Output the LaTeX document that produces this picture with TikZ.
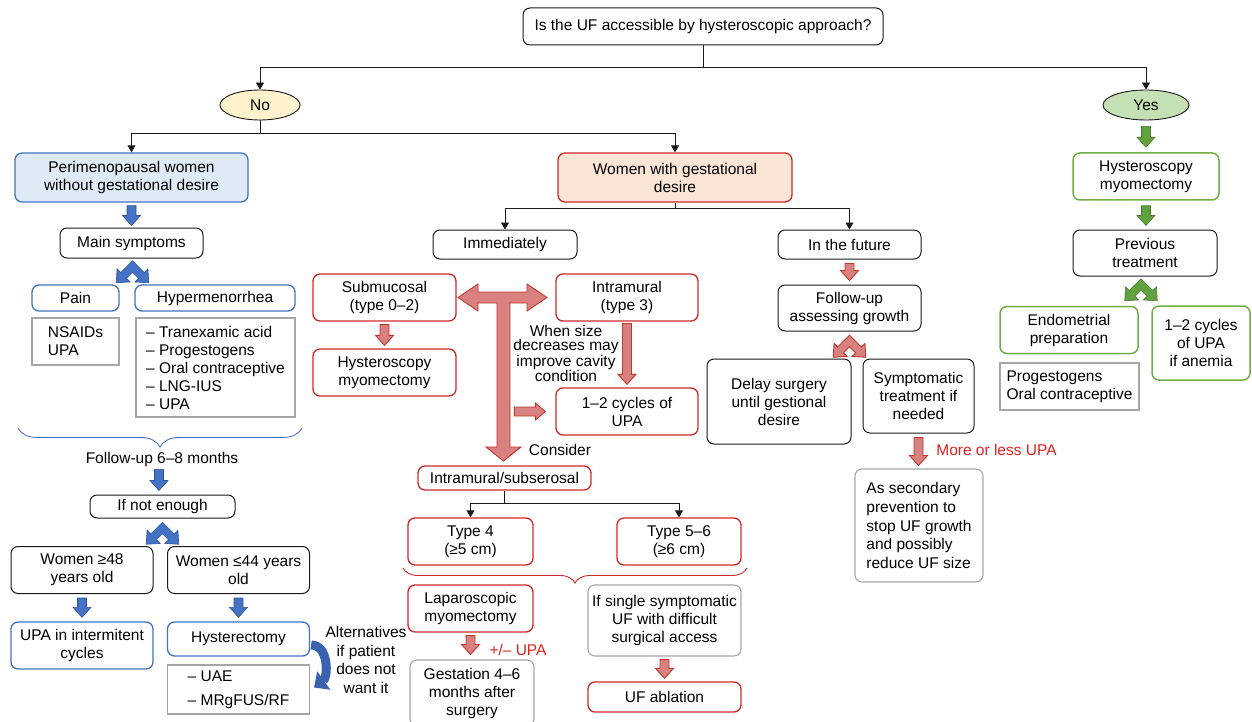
\documentclass[tikz,border=0pt]{standalone}
\usepackage{fontspec}
\setmainfont{Liberation Sans}
\usetikzlibrary{shapes.geometric,arrows.meta,calc,decorations.pathreplacing}
\definecolor{myblue}{HTML}{4472C4}
\definecolor{bluefill}{HTML}{DEEBF7}
\definecolor{myred}{HTML}{D02828}
\definecolor{redfill}{HTML}{FBE5D6}
\definecolor{redarr}{HTML}{D98080}
\definecolor{redarrline}{HTML}{C0392B}
\definecolor{redtext}{HTML}{E02020}
\definecolor{mygreen}{HTML}{70AD47}
\definecolor{greenfill}{HTML}{C5E0B4}
\definecolor{greenarr}{HTML}{62A13F}
\definecolor{greenarrline}{HTML}{4B7F2E}
\definecolor{mygray}{HTML}{A6A6A6}
\definecolor{nofill}{HTML}{FFF2CC}
\definecolor{bluearr}{HTML}{4472C4}
\definecolor{bluearrline}{HTML}{2F5597}
\definecolor{curvblue}{HTML}{3A62AE}
\definecolor{ink}{HTML}{1A1A1A}
\newcommand\fs{\fontsize{15.5}{18}\selectfont}
% vertical block arrow: start point, tip point
\newcommand\blkdown[3]{\path[#1] let \p1=#2, \p2=#3 in
  (\x1-4.5pt,\y1) -- (\x1+4.5pt,\y1) -- (\x1+4.5pt,\y2+10pt) -- (\x1+9pt,\y2+10pt)
  -- (\x1,\y2) -- (\x1-9pt,\y2+10pt) -- (\x1-4.5pt,\y2+10pt) -- cycle;}
% horizontal block arrow to the right
\newcommand\blkright[3]{\path[#1] let \p1=#2, \p2=#3 in
  (\x1,\y2-4.5pt) -- (\x2-10pt,\y2-4.5pt) -- (\x2-10pt,\y2-8.5pt) -- (\x2,\y2)
  -- (\x2-10pt,\y2+8.5pt) -- (\x2-10pt,\y2+4.5pt) -- (\x1,\y2+4.5pt) -- cycle;}
\tikzset{
  pics/chev/.style={code={\path[pic actions] (0,-4.95) -- (-10.25,5.31) -- (-13.44,2.12)
     -- (-14.14,14.14) -- (-2.12,13.44) -- (-5.31,10.25) -- (0,4.95) -- (5.31,10.25)
     -- (2.12,13.44) -- (14.14,14.14) -- (13.44,2.12) -- (10.25,5.31) -- cycle;}},
  sz/.style 2 args={minimum width=#1pt, minimum height=#2pt},
  box/.style={rounded corners=7pt, draw, align=center, inner sep=0pt},
  bbox/.style={box, draw=ink, line width=1pt},
  bluebox/.style={box, draw=myblue, line width=1.3pt},
  redbox/.style={box, draw=myred, line width=1.3pt},
  greenbox/.style={box, draw=mygreen, line width=1.5pt},
  graybox/.style={box, draw=mygray, line width=1.1pt},
  listbox/.style={draw=mygray, line width=1.1pt, align=left, inner sep=0pt},
  oval/.style={ellipse, draw=ink, line width=0.9pt, inner sep=0pt},
  lbl/.style={inner sep=0pt, align=center},
  redlbl/.style={inner sep=0pt, text=redtext},
  conn/.style={draw=ink, line width=0.9pt, -{Triangle[width=8pt,length=7pt]}},
  bluearrow/.style={fill=bluearr, draw=bluearrline, line width=0.6pt},
  redarrow/.style={fill=redarr, draw=redarrline, line width=0.9pt},
  greenarrow/.style={fill=greenarr, draw=greenarrline, line width=0.6pt},
  bluebrace/.style={draw=myblue, line width=0.9pt, decorate, decoration={brace, mirror, amplitude=19pt}},
  redbrace/.style={draw=myred, line width=0.9pt, decorate, decoration={brace, mirror, amplitude=15pt}},
  curvarrow/.style={draw=curvblue, line width=9pt, -{Triangle[width=22pt,length=12pt]}},
}
\begin{document}
\begin{tikzpicture}[x=1pt, y=-1pt, every node/.style={font=\fs}]
\useasboundingbox (0,0) rectangle (1252,722);
\fill[white] (0,0) rectangle (1252,722);

% top
\node[bbox, sz={360}{37}] (q) at (703,26.5) {Is the UF accessible by hysteroscopic approach?};
\node[oval, fill=nofill, sz={80}{30}] (no) at (260,105) {No};
\node[oval, fill=greenfill, sz={86}{30}] (yes) at (1146,105) {Yes};
\draw[conn] (q.south) -- ++(0,22) -| (no.north);
\draw[conn] (q.south) -- ++(0,22) -| (yes.north);

% left column
\node[bluebox, fill=bluefill, sz={233}{49}] (peri) at (131.5,177.5) {Perimenopausal women\\without gestational desire};
\node[redbox, fill=redfill, sz={234}{49}] (gest) at (675,177.5) {Women with gestational\\desire};
\draw[conn] (no.south) -- ++(0,13) -| (peri.north);
\draw[conn] (no.south) -- ++(0,13) -| (gest.north);

\node[bbox, sz={143}{30}] (mainsym) at (131.5,243) {Main symptoms};
\blkdown{bluearrow}{($(peri.south)+(0,3)$)}{($(mainsym.north)+(0,-2)$)}
\pic[bluearrow, scale=1.15] at ($(mainsym.south)+(1,8)$) {chev};
\node[bluebox, sz={87}{26}] (pain) at (75.5,298) {Pain};
\node[bluebox, sz={160}{26}] (hyper) at (215,298) {Hypermenorrhea};
\node[listbox, sz={87}{47}] (nsaid) at (75.5,341.5) {NSAIDs\\UPA};
\node[listbox, sz={159}{99}] (hyptx) at (215.5,367.5) {– Tranexamic acid\\– Progestogens\\– Oral contraceptive\\– LNG-IUS\\– UPA};
\coordinate (bl) at (18,428);
\coordinate (br) at (302,428);
\draw[bluebrace] (bl) -- (br);
\node[lbl, inner sep=2pt] (follow) at (162,459) {Follow-up 6–8 months};
\node[bbox, sz={145}{23}] (notenough) at (162.5,506.5) {If not enough};
\blkdown{bluearrow}{($(follow.south)+(-3,1)$)}{($(notenough.north)+(0,-4)$)}
\pic[bluearrow, scale=1.15] at ($(notenough.south)+(0,9.5)$) {chev};
\node[bbox, sz={142}{47}] (w48) at (82,570) {Women ≥48\\years old};
\node[bbox, sz={142}{47}] (w44) at (238.5,570) {Women ≤44 years\\old};
\node[bluebox, sz={142}{47}] (upa) at (82,645.5) {UPA in intermitent\\cycles};
\node[bluebox, sz={142}{34}] (hyst) at (238.5,639) {Hysterectomy};
\node[listbox, sz={142}{49}] (uae) at (238.5,689.5) {– UAE\\[6pt]– MRgFUS/RF};
\blkdown{bluearrow}{($(w48.south)+(0,4)$)}{($(upa.north)+(0,-4)$)}
\blkdown{bluearrow}{($(w44.south)+(0,4)$)}{($(hyst.north)+(0,-4)$)}
\node[lbl, font=\fontsize{15.5}{18.7}\selectfont] (alt) at (366,660) {Alternatives\\if patient\\does not\\want it};
\draw[curvarrow] ($(hyst.east)+(1,6)$) .. controls +(18,0) and +(14,-10) .. ($(uae.east)+(4,-2)$);

% middle column
\node[bbox, sz={144}{29}] (imm) at (505,244.5) {Immediately};
\node[bbox, sz={143}{29}] (fut) at (849.5,244.5) {In the future};
\draw[conn] (gest.south) -- ++(0,6) -| (imm.north);
\draw[conn] (gest.south) -- ++(0,6) -| (fut.north);
\node[redbox, sz={143}{47}] (sub) at (384.5,297.5) {Submucosal\\(type 0–2)};
\node[redbox, sz={142}{47}] (intra) at (627,297.5) {Intramural\\(type 3)};
\node[redbox, sz={143}{47}] (hm1) at (384.5,372.5) {Hysteroscopy\\myomectomy};
\node[redbox, sz={142}{47}] (cyc) at (627,411.5) {1–2 cycles of\\UPA};
\blkdown{redarrow}{($(sub.south)+(0,3)$)}{($(hm1.north)+(0,-3)$)}
\blkdown{redarrow}{($(intra.south)+(0,2)$)}{($(cyc.north)+(0,-3)$)}
\node[lbl, font=\fontsize{15.5}{14}\selectfont] (when) at (566,353.5) {When size\\decreases may\\improve cavity\\condition};
\coordinate (Tc) at ($(sub.east)!0.5!(intra.west)$);
\begin{scope}[shift={(Tc)}]
\draw[redarrow] (-48,0) -- (-28,-13.5) -- (-28,-5.5) -- (21,-5.5) -- (21,-13.5) -- (41,0)
  -- (21,13.5) -- (21,5.5) -- (4,5.5) -- (4,149.5) -- (15,149.5) -- (-2.5,163.5)
  -- (-20,149.5) -- (-9,149.5) -- (-9,5.5) -- (-28,5.5) -- (-28,13.5) -- cycle;
\end{scope}
\blkright{redarrow}{($(cyc.west)+(-41,0)$)}{($(cyc.west)+(-10,0)$)}
\node[lbl] (consider) at (560,450) {Consider};
\node[redbox, sz={173}{24}] (ims) at (504.5,478) {Intramural/subserosal};
\node[redbox, sz={125}{47}] (t4) at (470.5,541.5) {Type 4\\(≥5 cm)};
\node[redbox, sz={124}{47}] (t56) at (679,541.5) {Type 5–6\\(≥6 cm)};
\draw[conn] (ims.south) -- ++(0,13) -| (t4.north);
\draw[conn] (ims.south) -- ++(0,13) -| (t56.north);
\coordinate (rl) at (403,568);
\coordinate (rr) at (747,568);
\draw[redbrace] (rl) -- (rr);
\node[redbox, sz={125}{47}] (lap) at (470.5,608.5) {Laparoscopic\\myomectomy};
\node[graybox, sz={124}{66}] (g46) at (472,693) {Gestation 4–6\\months after\\surgery};
\blkdown{redarrow}{($(lap.south)+(0,3)$)}{($(g46.north)+(0,-5)$)}
\node[redlbl] (pm) at (518,650) {+/– UPA};
\node[graybox, sz={153}{71}] (single) at (664.5,620.5) {If single symptomatic\\UF with difficult\\surgical access};
\node[redbox, sz={153}{30}] (abl) at (664.5,697) {UF ablation};
\blkdown{redarrow}{($(single.south)+(0,3)$)}{($(abl.north)+(0,-3)$)}

% future branch
\node[bbox, sz={143}{46}] (fug) at (849.5,308) {Follow-up\\assessing growth};
\blkdown{redarrow}{($(fut.south)+(0,4)$)}{($(fug.north)+(0,-4)$)}
\pic[redarrow, scale=1.15] at ($(fug.south)+(0,9.5)$) {chev};
\node[bbox, sz={144}{85}] (delay) at (779,401.5) {Delay surgery\\until gestional\\desire};
\node[bbox, sz={111}{74}] (sympt) at (918.5,396) {Symptomatic\\treatment if\\needed};
\node[redlbl] (more) at (996.5,450) {More or less UPA};
\node[graybox, sz={128}{113}, align=left, font=\fontsize{15.5}{18.7}\selectfont] (sec) at (919,525.5) {As secondary\\prevention to\\stop UF growth\\and possibly\\reduce UF size};
\blkdown{redarrow}{($(sympt.south)+(0,4)$)}{($(sec.north)+(0,-3)$)}

% right column
\node[greenbox, sz={146}{47}] (hmy) at (1146,176.5) {Hysteroscopy\\myomectomy};
\node[bbox, sz={144}{46}] (prev) at (1145,253) {Previous\\treatment};
\blkdown{greenarrow}{($(yes.south)+(0,6)$)}{($(hmy.north)+(0,-5)$)}
\blkdown{greenarrow}{($(hmy.south)+(0,5)$)}{($(prev.north)+(0,-4)$)}
\pic[greenarrow, scale=1.15] at ($(prev.south)+(-4,8)$) {chev};
\node[greenbox, sz={138}{47}] (endo) at (1069,330) {Endometrial\\preparation};
\node[greenbox, sz={98}{74}] (cyc2) at (1201,343) {1–2 cycles\\of UPA\\if anemia};
\node[listbox, sz={139}{47}] (prog) at (1069.5,386.5) {Progestogens\\Oral contraceptive};
\end{tikzpicture}
\end{document}
